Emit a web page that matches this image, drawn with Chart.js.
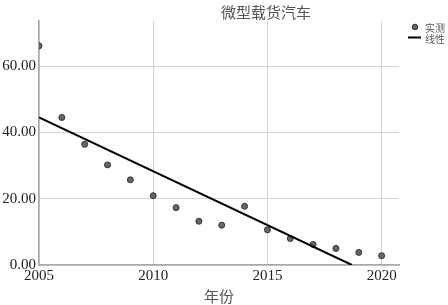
<!DOCTYPE html>
<html>
<head>
<meta charset="utf-8">
<script src="https://cdn.jsdelivr.net/npm/chart.js@4"></script>
<style>
  html, body { margin: 0; padding: 0; background: #fff; }
  #wrap { width: 448px; height: 305px; }
</style>
</head>
<body>
<div id="wrap"><canvas id="chart"></canvas></div>
<script>
const years = [2005, 2006, 2007, 2008, 2009, 2010, 2011, 2012, 2013, 2014, 2015, 2016, 2017, 2018, 2019, 2020];
const measured = [66.1, 44.5, 36.4, 30.2, 25.7, 20.9, 17.3, 13.2, 12.0, 17.7, 10.6, 8.0, 6.2, 5.0, 3.8, 2.8];

// 线性拟合线的两个端点
const fitYears = [2005, 2018.7];
const fitValues = [44.5, 0];

const xTicks = [2005, 2010, 2015, 2020];
const yTicks = [0, 20, 40, 60];

const titleText = "微型载货汽车";
const xTitle = "年份";

const serif = "'Liberation Serif', 'Times New Roman', serif";
const cjk = "'Noto Sans CJK SC', sans-serif";

// 标题和图例画在固定位置
const overlay = {
    id: "overlay",
    afterDraw(chart) {
        const ctx = chart.ctx;
        ctx.save();
        ctx.fillStyle = "#555";
        ctx.font = "15px " + cjk;
        ctx.textAlign = "center";
        ctx.textBaseline = "middle";
        ctx.fillText(titleText, 266, 12);

        // 图例
        const ds = chart.data.datasets;
        ctx.beginPath();
        ctx.arc(415, 27, 2.8, 0, Math.PI * 2);
        ctx.fillStyle = "#666";
        ctx.fill();
        ctx.strokeStyle = "#333";
        ctx.lineWidth = 1;
        ctx.stroke();

        ctx.beginPath();
        ctx.moveTo(408, 37.5);
        ctx.lineTo(421, 37.5);
        ctx.strokeStyle = "#000";
        ctx.lineWidth = 2;
        ctx.stroke();

        ctx.font = "10px " + cjk;
        ctx.textAlign = "left";
        ctx.fillStyle = "#555";
        ctx.fillText(ds[0].label, 425, 28);
        ctx.fillText(ds[1].label, 425, 39);
        ctx.restore();
    }
};

new Chart(document.getElementById("chart"), {
    type: "scatter",
    data: {
        datasets: [{
            label: "实测",
            data: years.map((y, i) => ({ x: y, y: measured[i] })),
            pointRadius: 3,
            pointBackgroundColor: "#666",
            pointBorderColor: "#333",
            pointBorderWidth: 1,
            clip: 0,
            order: 1
        }, {
            label: "线性",
            type: "line",
            data: fitYears.map((y, i) => ({ x: y, y: fitValues[i] })),
            borderColor: "#000",
            borderWidth: 2,
            pointRadius: 0,
            fill: false,
            clip: 0,
            order: 0
        }]
    },
    options: {
        responsive: true,
        maintainAspectRatio: false,
        animation: false,
        layout: { padding: { left: 0, right: 49, top: 21, bottom: 0 } },
        plugins: {
            legend: { display: false },
            title: { display: false },
            tooltip: { enabled: false }
        },
        scales: {
            x: {
                type: "linear",
                min: 2005,
                max: 2020.76,
                afterBuildTicks: s => { s.ticks = xTicks.map(v => ({ value: v })); },
                afterFit: s => { s.height = 40; },
                ticks: {
                    font: { family: serif, size: 15 },
                    color: "#222",
                    padding: 2,
                    maxRotation: 0,
                    callback: v => String(v)
                },
                grid: { color: "#d4d4d4", lineWidth: 1, drawTicks: false },
                border: { color: "#a8a8a8", width: 1.5 },
                title: {
                    display: true,
                    text: xTitle,
                    font: { family: cjk, size: 15 },
                    color: "#555",
                    padding: { top: 0, bottom: 0 }
                }
            },
            y: {
                min: 0,
                max: 73.6,
                afterBuildTicks: s => { s.ticks = yTicks.map(v => ({ value: v })); },
                afterFit: s => { s.width = 39; },
                ticks: {
                    font: { family: serif, size: 15 },
                    color: "#222",
                    padding: 3,
                    callback: v => v.toFixed(2)
                },
                grid: { color: "#d4d4d4", lineWidth: 1, drawTicks: false },
                border: { color: "#a8a8a8", width: 1.5 }
            }
        }
    },
    plugins: [overlay]
});
</script>
</body>
</html>
